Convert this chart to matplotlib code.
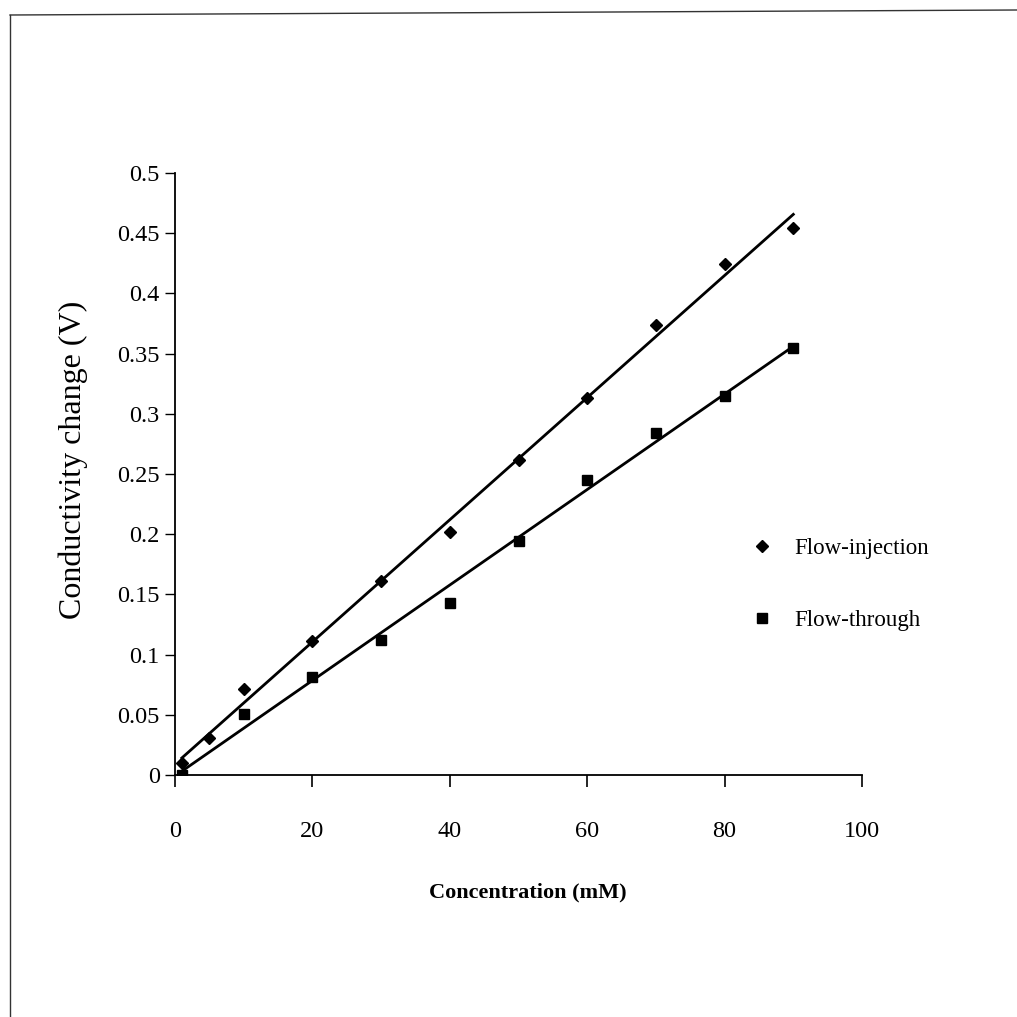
import numpy as np
import matplotlib
matplotlib.use("Agg")
import matplotlib.pyplot as plt
from matplotlib.lines import Line2D

# ---- data ----
fi_x = [1, 5, 10, 20, 30, 40, 50, 60, 70, 80, 90]
fi_y = [0.010, 0.031, 0.071, 0.111, 0.161, 0.202, 0.262, 0.313, 0.374, 0.424, 0.454]
ft_x = [1, 10, 20, 30, 40, 50, 60, 70, 80, 90]
ft_y = [0.000, 0.051, 0.081, 0.112, 0.143, 0.194, 0.245, 0.284, 0.315, 0.355]
x_ticks = [0, 20, 40, 60, 80, 100]
y_ticks = [0, 0.05, 0.1, 0.15, 0.2, 0.25, 0.3, 0.35, 0.4, 0.45, 0.5]
y_tick_labels = ["0", "0.05", "0.1", "0.15", "0.2", "0.25", "0.3", "0.35", "0.4", "0.45", "0.5"]
series_labels = ["Flow-injection", "Flow-through"]

plt.rcParams['font.family'] = ['Liberation Serif', 'DejaVu Serif']

fig = plt.figure(figsize=(10.17, 10.17), dpi=100)
ax = fig.add_axes([0.1721, 0.2380, 0.6755, 0.5919])

# trendlines (linear fits of the data)
for xs, ys in ((fi_x, fi_y), (ft_x, ft_y)):
    k, b = np.polyfit(xs, ys, 1)
    xx = np.array([min(xs), max(xs)])
    ax.plot(xx, k * xx + b, color='black', lw=2.0, zorder=2)

ax.plot(fi_x, fi_y, linestyle='none', marker='D', markersize=6.5,
        color='black', label=series_labels[0], zorder=3)
ax.plot(ft_x, ft_y, linestyle='none', marker='s', markersize=7.5,
        color='black', label=series_labels[1], zorder=3)

ax.set_xlim(0, 100)
ax.set_ylim(0, 0.5)
ax.set_xticks(x_ticks)
ax.set_xticklabels([str(v) for v in x_ticks])
ax.set_yticks(y_ticks)
ax.set_yticklabels(y_tick_labels)

for s in ('top', 'right'):
    ax.spines[s].set_visible(False)
for s in ('left', 'bottom'):
    ax.spines[s].set_linewidth(1.3)

ax.tick_params(axis='x', direction='out', length=8.5, width=1.2, pad=25, labelsize=17.5)
ax.tick_params(axis='y', direction='out', length=7, width=1.0, pad=4, labelsize=17.5)

ax.set_xlabel("Concentration (mM)", fontsize=16, fontweight='bold')
ax.xaxis.set_label_coords(0.513, -0.178)
ax.set_ylabel("Conductivity change (V)", fontsize=23)
ax.yaxis.set_label_coords(-0.126, 0.523)

leg = ax.legend(loc='upper left', bbox_to_anchor=(0.729, 0.482), bbox_transform=fig.transFigure,
                frameon=False, fontsize=16.5, handlelength=0.8, handletextpad=1.0,
                labelspacing=2.2, borderpad=0)

# scanned page frame
fig.add_artist(Line2D([10/1017, 10/1017], [0.0, 1 - 15/1017], transform=fig.transFigure,
                      color='#333333', lw=1.0))
fig.add_artist(Line2D([10/1017, 1.0], [1 - 15/1017, 1 - 10/1017], transform=fig.transFigure,
                      color='#333333', lw=1.0))

fig.savefig("out.png", dpi=100)
